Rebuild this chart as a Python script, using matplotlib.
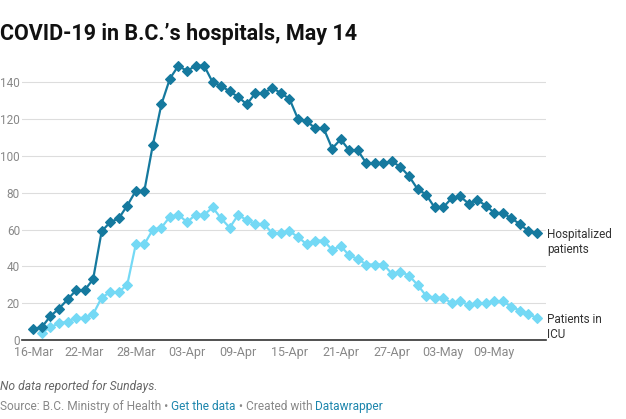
import matplotlib.pyplot as plt
import matplotlib.dates as mdates
import numpy as np
import pandas as pd

# daily values, 16-Mar to 14-May (Sundays repeat the Saturday value)
dates = pd.date_range("2020-03-16", "2020-05-14", freq="D")

hospitalized = [
    6, 7, 13, 17, 22, 27, 27, 33, 59, 64, 66, 73, 81, 81, 106, 128,      # Mar 16-31
    142, 149, 146, 149, 149, 140, 138, 135, 132, 128, 134, 134, 137, 134,  # Apr 1-14
    131, 120, 119, 115, 115, 104, 109, 103, 103, 96, 96, 96, 97, 94, 89, 82,  # Apr 15-30
    79, 72, 72, 77, 78, 74, 76, 73, 69, 69, 66, 63, 59, 58,              # May 1-14
]
icu = [
    np.nan, 4, 7, 9, 10, 12, 12, 14, 23, 26, 26, 30, 52, 52, 60, 61,
    67, 68, 64, 68, 68, 72, 66, 61, 68, 65, 63, 63, 58, 58,
    59, 56, 52, 54, 54, 49, 51, 46, 44, 41, 41, 41, 36, 37, 35, 30,
    24, 23, 23, 20, 21, 19, 20, 20, 21, 21, 18, 16, 14, 12,
]

title = "COVID-19 in B.C.’s hospitals, May 14"
note = "No data reported for Sundays."

dark = "#15799e"
light = "#74d9f5"
grey = "#888888"

plt.rcParams["font.family"] = ["Roboto", "DejaVu Sans"]

fig = plt.figure(figsize=(6.26, 4.19), dpi=100)
ax = fig.add_axes([22 / 626, 1 - 340 / 419, 524 / 626, 276.2 / 419])

ax.plot(dates, icu, color=light, lw=1.6, marker="D", ms=4.8, mew=0.8,
        clip_on=False, zorder=3)
ax.plot(dates, hospitalized, color=dark, lw=1.6, marker="D", ms=4.8, mew=0.8,
        clip_on=False, zorder=4)

ax.set_xlim(dates[0] - pd.Timedelta(days=1.33), dates[-1] + pd.Timedelta(days=1.05))
ax.set_ylim(0, 150)
ax.set_yticks(range(0, 141, 20))
ticks = [d for d in dates if (d - dates[0]).days % 6 == 0]
ax.set_xticks(ticks)
ax.xaxis.set_major_formatter(mdates.DateFormatter("%d-%b"))

ax.grid(axis="y", color="#dddddd", lw=0.8)
ax.set_axisbelow(True)
for s in ["top", "right", "left"]:
    ax.spines[s].set_visible(False)
ax.spines["bottom"].set_color("#333333")
ax.spines["bottom"].set_linewidth(1.2)
ax.spines["bottom"].set_zorder(5)
ax.tick_params(length=0, labelcolor=grey)
ax.tick_params(axis="y", pad=1.5, labelsize=8.5)
ax.tick_params(axis="x", pad=4, labelsize=9)

ax.annotate("Hospitalized\npatients", (dates[-1], hospitalized[-1]),
            xytext=(7, 3.6), textcoords="offset points", va="top", ha="left",
            fontsize=8.5, color="#333333", linespacing=1.2)
ax.annotate("Patients in\nICU", (dates[-1], icu[-1]),
            xytext=(7, 3.6), textcoords="offset points", va="top", ha="left",
            fontsize=8.5, color="#333333", linespacing=1.2)

fig.text(0.0, 1 - 40 / 419, title, fontsize=15.5, fontweight="bold",
         color="#111111", va="baseline")
fig.text(0.0, 1 - 390 / 419, note, fontsize=8.7, style="italic",
         color="#666666", va="baseline")

# footer with coloured links
parts = [("Source: B.C. Ministry of Health • ", grey),
         ("Get the data", "#1d86ad"),
         (" • Created with ", grey),
         ("Datawrapper", "#1d86ad")]
fig.canvas.draw()
x = 0.0
r = fig.canvas.get_renderer()
for txt, col in parts:
    t = fig.text(x, 1 - 410 / 419, txt, fontsize=8.6, color=col, va="baseline")
    bb = t.get_window_extent(renderer=r)
    x += bb.width / fig.bbox.width

fig.savefig("out.png", dpi=100)
